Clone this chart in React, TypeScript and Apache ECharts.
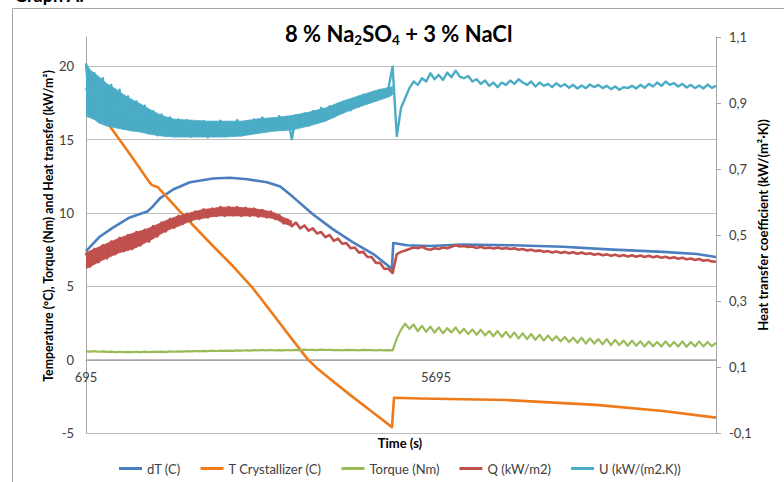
import React, { useEffect, useRef } from "react";
import * as echarts from "echarts";

// ---------- axes ----------
const X_MIN = 695;
const X_MAX = 9695;
const xTickLabels = [695, 5695];
const leftTicks = [-5, 0, 5, 10, 15, 20];
const rightTicks = [-0.1, 0.1, 0.3, 0.5, 0.7, 0.9, 1.1];

// ---------- smooth series: [time (s), value] ----------
const dT: [number, number][] = [
  [695, 7.4], [895, 8.4], [1080, 9.0], [1320, 9.7], [1570, 10.1], [1640, 10.4],
  [1750, 11.0], [1940, 11.6], [2180, 12.1], [2510, 12.35], [2750, 12.4], [3000, 12.3],
  [3280, 12.1], [3470, 11.8], [3650, 11.1], [3940, 9.9], [4220, 8.9], [4510, 8.0],
  [4800, 7.2], [5065, 6.2], [5085, 7.95], [5280, 7.8], [5610, 7.75], [6080, 7.85],
  [6800, 7.8], [7510, 7.7], [8220, 7.5], [8940, 7.35], [9420, 7.2], [9695, 7.0],
];

const tCrystallizer: [number, number][] = [
  [695, 18.5], [1038, 15.9], [1324, 14.0], [1609, 12.05], [1638, 11.9], [1724, 11.75],
  [2038, 10.1], [2509, 7.75], [2800, 6.35], [3066, 4.95], [3350, 3.2], [3638, 1.4],
  [3866, 0.0], [4000, -0.6], [4152, -1.2], [4467, -2.4], [4781, -3.55], [5066, -4.6],
  [5095, -2.6], [5467, -2.65], [6695, -2.75], [7981, -3.08], [8938, -3.5], [9695, -3.95],
];

// ---------- logged series, one value every 60 s from 695 s ----------
const logStart = 695;
const logStep = 60;

const torque = [
  0.57, 0.55, 0.58, 0.54, 0.56, 0.53, 0.55, 0.52, 0.54, 0.52,
  0.53, 0.51, 0.54, 0.52, 0.55, 0.52, 0.54, 0.53, 0.55, 0.52,
  0.56, 0.54, 0.57, 0.55, 0.58, 0.56, 0.59, 0.57, 0.6, 0.58,
  0.61, 0.59, 0.62, 0.6, 0.62, 0.6, 0.63, 0.61, 0.64, 0.62,
  0.65, 0.63, 0.66, 0.64, 0.66, 0.63, 0.65, 0.63, 0.66, 0.64,
  0.67, 0.65, 0.68, 0.66, 0.67, 0.65, 0.68, 0.66, 0.67, 0.65,
  0.66, 0.64, 0.67, 0.65, 0.66, 0.64, 0.67, 0.65, 0.66, 0.64,
  0.66, 0.64, 0.65, 0.64, 1.45, 2.05, 2.45, 2.1, 2.4, 1.95,
  2.3, 1.9, 2.25, 1.85, 2.2, 1.8, 2.15, 1.85, 2.2, 1.8,
  2.1, 1.75, 2.05, 1.7, 2.05, 1.65, 1.95, 1.6, 1.95, 1.55,
  1.9, 1.5, 1.85, 1.45, 1.8, 1.4, 1.75, 1.35, 1.7, 1.3,
  1.65, 1.3, 1.6, 1.25, 1.55, 1.2, 1.5, 1.15, 1.5, 1.1,
  1.45, 1.1, 1.4, 1.05, 1.4, 1.0, 1.35, 1.0, 1.3, 0.95,
  1.3, 0.95, 1.25, 0.9, 1.25, 0.92, 1.2, 0.9, 1.25, 0.9,
  1.2, 0.9, 1.25, 0.88, 1.2, 0.9, 1.25, 0.9, 1.2, 0.92,
  1.15,
];

const heatFlux = [
  7.3, 6.35, 7.55, 6.65, 7.8, 6.9, 8.05, 7.2, 8.3, 7.4,
  8.5, 7.55, 8.7, 7.8, 8.85, 8.05, 9.1, 8.4, 9.35, 8.75,
  9.6, 9.0, 9.8, 9.25, 9.95, 9.45, 10.1, 9.6, 10.25, 9.7,
  10.3, 9.8, 10.4, 9.8, 10.4, 9.85, 10.4, 9.8, 10.35, 9.8,
  10.3, 9.75, 10.2, 9.7, 10.1, 9.6, 9.85, 9.3, 9.55, 9.1,
  9.35, 8.95, 9.15, 8.8, 8.95, 8.6, 8.7, 8.35, 8.5, 8.1,
  8.25, 7.9, 7.95, 7.6, 7.65, 7.3, 7.35, 7.0, 7.0, 6.6,
  6.6, 6.2, 6.2, 5.9, 7.2, 7.35, 7.45, 7.55, 7.65, 7.6,
  7.7, 7.55, 7.5, 7.6, 7.55, 7.65, 7.6, 7.7, 7.8, 7.72,
  7.75, 7.68, 7.72, 7.62, 7.7, 7.6, 7.65, 7.58, 7.64, 7.56,
  7.62, 7.55, 7.6, 7.5, 7.55, 7.45, 7.5, 7.4, 7.45, 7.36,
  7.4, 7.3, 7.38, 7.28, 7.35, 7.25, 7.32, 7.22, 7.3, 7.2,
  7.26, 7.15, 7.22, 7.12, 7.18, 7.08, 7.16, 7.05, 7.14, 7.04,
  7.12, 7.02, 7.1, 7.0, 7.08, 6.98, 7.05, 6.95, 7.02, 6.92,
  6.98, 6.88, 6.95, 6.84, 6.9, 6.8, 6.86, 6.75, 6.8, 6.7,
  6.68,
];

const uCoeff = [
  1.02, 0.86, 0.99, 0.845, 0.975, 0.835, 0.955, 0.83, 0.94, 0.822,
  0.92, 0.818, 0.905, 0.814, 0.892, 0.808, 0.875, 0.802, 0.865, 0.8,
  0.856, 0.799, 0.85, 0.805, 0.848, 0.798, 0.842, 0.81, 0.845, 0.796,
  0.838, 0.806, 0.846, 0.8, 0.84, 0.812, 0.848, 0.802, 0.844, 0.808,
  0.85, 0.81, 0.856, 0.815, 0.852, 0.82, 0.86, 0.818, 0.855, 0.79,
  0.862, 0.828, 0.868, 0.832, 0.875, 0.84, 0.885, 0.852, 0.89, 0.858,
  0.897, 0.87, 0.905, 0.878, 0.912, 0.89, 0.925, 0.9, 0.93, 0.91,
  0.94, 0.918, 0.945, 1.01, 0.8, 0.885, 0.915, 0.945, 0.965, 0.955,
  0.975, 0.965, 0.99, 0.972, 0.985, 0.97, 0.992, 0.978, 0.998, 0.98,
  0.975, 0.982, 0.965, 0.972, 0.958, 0.968, 0.952, 0.962, 0.948, 0.962,
  0.955, 0.968, 0.958, 0.972, 0.962, 0.955, 0.965, 0.95, 0.962, 0.952,
  0.958, 0.948, 0.96, 0.95, 0.957, 0.946, 0.955, 0.944, 0.953, 0.945,
  0.956, 0.948, 0.955, 0.945, 0.952, 0.942, 0.95, 0.94, 0.948, 0.945,
  0.952, 0.944, 0.955, 0.946, 0.958, 0.95, 0.962, 0.952, 0.965, 0.955,
  0.96, 0.95, 0.958, 0.947, 0.955, 0.945, 0.953, 0.944, 0.956, 0.946,
  0.952,
];

// ---------- envelopes of the dense noise bands ----------
const uBandTimes = [
  695, 755, 815, 875, 935, 995, 1115, 1235, 1355, 1475, 1595, 1775, 1955, 2195,
  2435, 2675, 2915, 3155, 3395, 3635, 3875, 4115, 4355, 4595, 4835, 5015, 5075,
];
const uBandHigh = [
  1.02, 1.0, 0.99, 0.98, 0.97, 0.958, 0.943, 0.925, 0.91, 0.897, 0.882, 0.862, 0.851, 0.848,
  0.845, 0.845, 0.845, 0.852, 0.856, 0.862, 0.872, 0.885, 0.905, 0.922, 0.938, 0.947, 0.95,
];
const uBandLow = [
  0.86, 0.855, 0.85, 0.84, 0.835, 0.83, 0.825, 0.82, 0.815, 0.812, 0.806, 0.8, 0.797, 0.797,
  0.797, 0.797, 0.8, 0.808, 0.815, 0.818, 0.83, 0.845, 0.868, 0.888, 0.905, 0.918, 0.925,
];

const qBandTimes = [
  695, 815, 935, 1055, 1175, 1295, 1415, 1535, 1655, 1775, 1895, 2015, 2135, 2255,
  2375, 2495, 2615, 2855, 3095, 3275, 3395, 3515, 3635,
];
const qBandHigh = [
  7.3, 7.55, 7.8, 8.05, 8.3, 8.5, 8.7, 8.85, 9.1, 9.35, 9.6, 9.8, 9.95, 10.1,
  10.25, 10.3, 10.4, 10.4, 10.3, 10.15, 10.0, 9.7, 9.45,
];
const qBandLow = [
  6.2, 6.5, 6.8, 7.05, 7.3, 7.45, 7.65, 7.95, 8.25, 8.6, 8.9, 9.1, 9.35, 9.55,
  9.65, 9.75, 9.8, 9.8, 9.8, 9.7, 9.6, 9.3, 9.1,
];

const seriesNames = ["dT (C)", "T Crystallizer (C)", "Torque (Nm)", "Q (kW/m2)", "U (kW/(m2.K))"];
const seriesColors = ["#4A7EBF", "#EF7A1A", "#9BBB59", "#C0504D", "#4BACC6"];

const withTime = (vals: number[]) => vals.map((v, i) => [logStart + logStep * i, v]);

const FONT = "Lato, 'Liberation Sans', sans-serif";

export default function App() {
  const ref = useRef<HTMLDivElement>(null);

  useEffect(() => {
    if (!ref.current) return;
    const chart = echarts.init(ref.current, undefined, { renderer: "svg" });
    const lineSeries = (idx: number, data: any, width: number, yAxisIndex = 0) => ({
      name: seriesNames[idx],
      type: "line",
      data,
      yAxisIndex,
      showSymbol: false,
      symbol: "none",
      smooth: false,
      lineStyle: { color: seriesColors[idx], width, join: "round" },
      itemStyle: { color: seriesColors[idx] },
      z: 3 + idx,
    });
    // filled band between the low and high envelopes (custom series, positioned by the axes)
    const band = (key: string, idx: number, times: number[], lo: number[], hi: number[], yAxisIndex: number) => ({
      name: key,
      type: "custom",
      yAxisIndex,
      z: 3 + idx,
      silent: true,
      clip: true,
      data: times.map((t, i) => [t, lo[i], hi[i]]),
      encode: { x: 0, y: [1, 2] },
      renderItem: (params: any, api: any) => {
        const i = params.dataIndex;
        if (i >= times.length - 1) return { type: "group", children: [] };
        const pts = [
          api.coord([times[i], lo[i]]),
          api.coord([times[i + 1], lo[i + 1]]),
          api.coord([times[i + 1], hi[i + 1]]),
          api.coord([times[i], hi[i]]),
        ];
        return {
          type: "polygon",
          shape: { points: pts },
          style: { fill: seriesColors[idx], stroke: seriesColors[idx], lineWidth: 0.8 },
        };
      },
    });

    chart.setOption({
      animation: false,
      textStyle: { fontFamily: FONT },
      title: {
        text: "{a|8 % Na}{b|2}{a|SO}{b|4}{a| + 3 % NaCl}",
        left: 280,
        top: 15,
        textStyle: {
          rich: {
            a: { fontSize: 22, fontWeight: "bold", color: "#000", fontFamily: FONT, lineHeight: 27 },
            b: { fontSize: 13.5, fontWeight: "bold", color: "#000", fontFamily: FONT, lineHeight: 13, verticalAlign: "bottom" },
          },
        },
      },
      legend: {
        data: seriesNames,
        left: 114,
        top: 457,
        icon: "rect",
        itemWidth: 23,
        itemHeight: 3,
        itemGap: 20,
        textStyle: { fontSize: 13, color: "#404040", fontFamily: FONT },
      },
      grid: { left: 86, right: 68, top: 37, bottom: 49, containLabel: false },
      xAxis: {
        type: "value",
        min: X_MIN,
        max: X_MAX,
        position: "bottom",
        offset: -73,
        axisLine: { show: true, onZero: false, lineStyle: { color: "#a6a6a6", width: 1 } },
        axisTick: { show: false },
        splitLine: { show: false },
        axisLabel: {
          customValues: xTickLabels,
          color: "#404040",
          fontSize: 13,
          margin: 10,
          fontFamily: FONT,
          formatter: (v: number) => String(v),
        },
      },
      yAxis: [
        {
          type: "value",
          min: -5,
          max: 22,
          axisLine: { show: true, lineStyle: { color: "#a6a6a6" } },
          axisTick: { show: false, customValues: leftTicks },
          splitLine: { show: true, lineStyle: { color: "#bfbfbf", width: 1 } },
          axisLabel: {
            customValues: leftTicks,
            color: "#404040",
            fontSize: 13,
            margin: 12,
            fontFamily: FONT,
          },
        },
        {
          type: "value",
          min: -0.1,
          max: 1.1,
          position: "right",
          axisLine: { show: true, lineStyle: { color: "#a6a6a6" } },
          axisTick: { show: true, customValues: rightTicks, length: 5, lineStyle: { color: "#a6a6a6" } },
          splitLine: { show: false },
          axisLabel: {
            customValues: rightTicks,
            color: "#404040",
            fontSize: 13,
            margin: 13,
            fontFamily: FONT,
            formatter: (v: number) => v.toFixed(1).replace(".", ","),
          },
        },
      ],
      graphic: [
        {
          type: "rect",
          shape: { x: 12.5, y: 8.5, width: 900, height: 600 },
          style: { fill: "none", stroke: "#a6a6a6", lineWidth: 1 },
          silent: true,
        },
        {
          type: "text",
          x: 14,
          y: 4,
          style: { text: "Graph A:", font: `bold 18px ${FONT}`, fill: "#000", textAlign: "left", textVerticalAlign: "bottom" },
        },
        {
          type: "text",
          x: 48,
          y: 226,
          rotation: Math.PI / 2,
          style: {
            text: "Temperature (°C), Torque (Nm) and Heat transfer (kW/m²)",
            font: `bold 12.3px ${FONT}`,
            fill: "#000",
            textAlign: "center",
            textVerticalAlign: "middle",
          },
        },
        {
          type: "text",
          x: 763,
          y: 225,
          rotation: Math.PI / 2,
          style: {
            text: "Heat transfer coefficient (kW/(m²·K))",
            font: `bold 13px ${FONT}`,
            fill: "#000",
            textAlign: "center",
            textVerticalAlign: "middle",
          },
        },
        {
          type: "text",
          x: 400,
          y: 443,
          style: { text: "Time (s)", font: `bold 13px ${FONT}`, fill: "#000", textAlign: "center", textVerticalAlign: "middle" },
        },
      ],
      series: [
        lineSeries(0, dT, 2.6),
        lineSeries(1, tCrystallizer, 2.6),
        lineSeries(2, withTime(torque), 2.2),
        lineSeries(3, withTime(heatFlux), 2.6),
        lineSeries(4, withTime(uCoeff), 2.4, 1),
        band("qband", 3, qBandTimes, qBandLow, qBandHigh, 0),
        band("uband", 4, uBandTimes, uBandLow, uBandHigh, 1),
      ],
    });
    return () => chart.dispose();
  }, []);

  return (
    <div
      ref={ref}
      style={{ position: "fixed", left: 0, top: 0, width: 784, height: 482, background: "#fff" }}
    />
  );
}
